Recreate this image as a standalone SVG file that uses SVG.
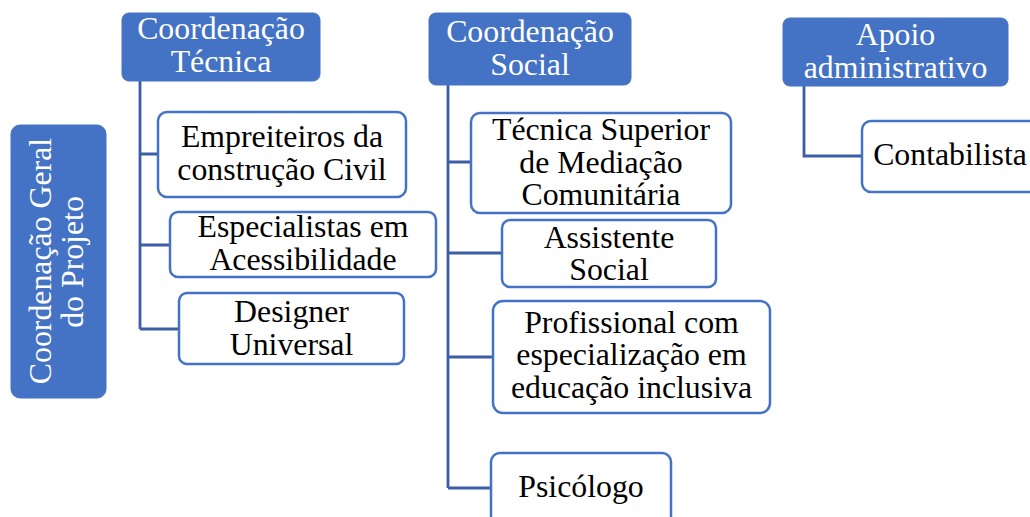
<svg xmlns="http://www.w3.org/2000/svg" width="1030" height="517" viewBox="0 0 1030 517">
<style>
.hdr{fill:#4472C4;stroke:#4472C4;stroke-width:1}
.box{fill:#FFFFFF;stroke:#4472C4;stroke-width:2.5}
.con{fill:none;stroke:#3B5EA6;stroke-width:2.8}
text{font-family:"Liberation Serif","Times New Roman",serif;font-size:31.8px;text-anchor:middle}
.w{fill:#FFFFFF}
.b{fill:#000000}
</style>
<rect width="1030" height="517" fill="#FFFFFF"/>
<g id="connectors">
<path class="con" d="M140,81 V329 M140,154 H158 M140,245 H170 M140,329 H179"/>
<path class="con" d="M448,85 V488 M448,162 H471 M448,253 H502 M448,357 H493 M448,488 H491"/>
<path class="con" d="M804,86 V156 H862"/>
</g>
<g id="coord-geral">
<rect class="hdr" x="11" y="125" width="95" height="273" rx="9"/>
<text class="w" transform="translate(51,261) rotate(-90)">Coordenação Geral</text>
<text class="w" transform="translate(83,262) rotate(-90)">do Projeto</text>
</g>
<g id="coord-tecnica">
<rect class="hdr" x="122" y="13" width="198" height="68" rx="7"/>
<text class="w" x="221" y="39">Coordenação</text>
<text class="w" x="221" y="72">Técnica</text>
</g>
<g id="empreiteiros">
<rect class="box" x="158" y="112" width="248" height="85" rx="9"/>
<text class="b" x="282" y="147">Empreiteiros da</text>
<text class="b" x="282" y="180">construção Civil</text>
</g>
<g id="especialistas">
<rect class="box" x="170" y="212" width="266" height="65" rx="8"/>
<text class="b" x="303" y="237">Especialistas em</text>
<text class="b" x="303" y="270">Acessibilidade</text>
</g>
<g id="designer">
<rect class="box" x="179" y="293" width="225" height="71" rx="8"/>
<text class="b" x="291.5" y="322">Designer</text>
<text class="b" x="291.5" y="355">Universal</text>
</g>
<g id="coord-social">
<rect class="hdr" x="429" y="13" width="202" height="72" rx="7"/>
<text class="w" x="530" y="42">Coordenação</text>
<text class="w" x="530" y="75">Social</text>
</g>
<g id="tecnica-superior">
<rect class="box" x="471" y="113" width="260" height="100" rx="9"/>
<text class="b" x="601" y="140">Técnica Superior</text>
<text class="b" x="601" y="173">de Mediação</text>
<text class="b" x="601" y="205">Comunitária</text>
</g>
<g id="assistente-social">
<rect class="box" x="502" y="220" width="214" height="67" rx="8"/>
<text class="b" x="609" y="248">Assistente</text>
<text class="b" x="609" y="280">Social</text>
</g>
<g id="profissional">
<rect class="box" x="493" y="301" width="277" height="112" rx="10"/>
<text class="b" x="631.5" y="333">Profissional com</text>
<text class="b" x="631.5" y="365">especialização em</text>
<text class="b" x="631.5" y="398">educação inclusiva</text>
</g>
<g id="psicologo">
<rect class="box" x="491" y="453" width="180" height="72" rx="9"/>
<text class="b" x="581" y="497">Psicólogo</text>
</g>
<g id="apoio">
<rect class="hdr" x="783" y="18" width="225" height="68" rx="7"/>
<text class="w" x="895.5" y="45">Apoio</text>
<text class="w" x="895.5" y="78">administrativo</text>
</g>
<g id="contabilista">
<rect class="box" x="862" y="121" width="180" height="71" rx="9"/>
<text class="b" x="950" y="165">Contabilista</text>
</g>
</svg>
